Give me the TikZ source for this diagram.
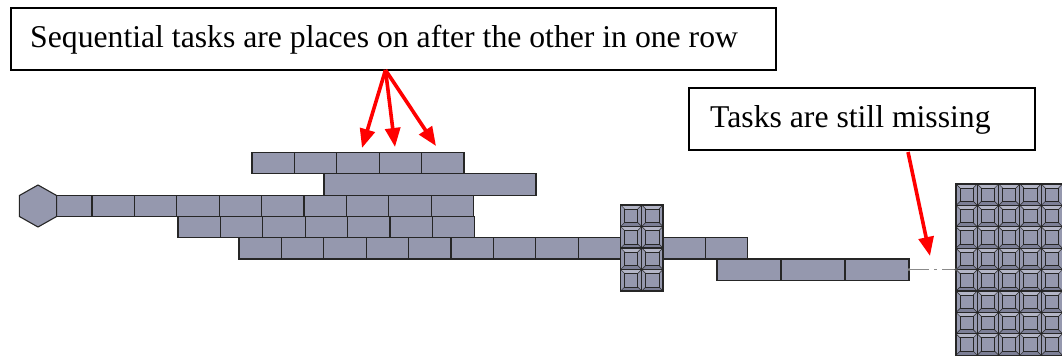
\documentclass[tikz,border=0pt]{standalone}
\usepackage{fontspec}
\setmainfont{Liberation Serif}
\usetikzlibrary{arrows.meta}

\definecolor{tilefill}{HTML}{9598AE}
\definecolor{tilelight}{HTML}{B3B5C6}
\definecolor{tiledark}{HTML}{7C7F96}
\definecolor{tileedge}{HTML}{262626}
\definecolor{linkgray}{HTML}{8A8A8A}

\tikzset{
  tilecell/.style={fill=tilefill, draw=tileedge, line width=1.1pt},
  textbox/.style={draw=black, line width=1.6pt, fill=white, inner sep=0pt},
  boxtext/.style={inner sep=0pt, font=\fontsize{31.7}{38}\selectfont},
  callout/.style={red, line width=3.6pt, -{Triangle[length=19pt,width=15pt]}},
  missinglink/.style={linkgray, line width=1pt, dash pattern=on 20pt off 5pt on 3pt off 5pt},
}

% one row of equal task cells: x0, y0, cell width, count, height
\newcommand\taskrow[5]{%
  \foreach \i in {1,...,#4}{%
    \draw[tilecell] ({#1+(\i-1)*#3},#2) rectangle ++(#3,#5);
  }%
}

% one bevelled square at the current origin: width, height
\newcommand\chocsq[2]{%
  \fill[tilefill] (0,0) rectangle (#1,#2);
  \fill[tilelight] (0,0) -- (#1,0) -- ({#1-4},4) -- (4,4) -- cycle;
  \fill[tiledark] (0,#2) -- (#1,#2) -- ({#1-4},{#2-4}) -- (4,{#2-4}) -- cycle;
  \draw[tileedge, line width=0.5pt] (0,0) -- (4,4) (#1,0) -- ({#1-4},4)
        (0,#2) -- (4,{#2-4}) (#1,#2) -- ({#1-4},{#2-4});
  \draw[tileedge, line width=1pt] (4,4) rectangle ({#1-4},{#2-4});
  \draw[tileedge, line width=1.1pt] (0,0) rectangle (#1,#2);
}

% grid of bevelled squares: x0, y0, cell width, cell height, columns, rows
\newcommand\chocgrid[6]{%
  \foreach \c in {1,...,#5}{%
    \foreach \r in {1,...,#6}{%
      \pgfmathsetmacro\cx{#1+(\c-1)*#3}%
      \pgfmathsetmacro\cy{#2+(\r-1)*#4}%
      \begin{scope}[shift={(\cx,\cy)}]
        \chocsq{#3}{#4}
      \end{scope}
    }%
  }%
}

\begin{document}
\begin{tikzpicture}[x=1pt, y=-1pt]
\useasboundingbox (0,0) rectangle (1062,356);

% task rows, top to bottom
\taskrow{252}{152.5}{42.4}{5}{21.3}
\draw[tilecell] (324,173.8) rectangle (536,195.1);
\taskrow{49.6}{195.1}{42.4}{10}{21.3}
\taskrow{178}{216.4}{42.4}{7}{21.3}
\taskrow{239}{237.7}{42.4}{12}{21.3}
\taskrow{717}{259}{64}{3}{21.3}

% start node
\draw[tilecell] (38,185) -- (19.4,195.5) -- (19.4,216.5) -- (38,227)
      -- (56.6,216.5) -- (56.6,195.5) -- cycle;

% merged task blocks
\chocgrid{620.6}{205}{21.2}{21.5}{2}{4}
\chocgrid{956}{184}{21.3}{21.4}{5}{8}

% missing connection
\coordinate (rowend) at (909,269.6);
\coordinate (blockin) at (956,269.6);
\draw[missinglink] (rowend) -- (blockin);
\fill[linkgray] (rowend) circle (1.6pt);
\fill[tileedge!80] (blockin) circle (1.8pt);

% annotations
\node[textbox, anchor=north west, minimum width=765pt, minimum height=62pt] (seqbox) at (10,7) {};
\node[boxtext, anchor=base west] (seqtext) at (30,47)
  {Sequential tasks are places on after the other in one row};
\node[textbox, anchor=north west, minimum width=346pt, minimum height=62pt] (missbox) at (688,87) {};
\node[boxtext, anchor=base west] (misstext) at (710,127) {Tasks are still missing};

\coordinate (seqfoot) at (385.5,70);
\coordinate (tipa) at (362,148);
\coordinate (tipb) at (395,147);
\coordinate (tipc) at (436,146);
\draw[callout] (seqfoot) -- (tipa);
\draw[callout] (seqfoot) -- (tipb);
\draw[callout] (seqfoot) -- (tipc);

\coordinate (missfoot) at (908,152);
\coordinate (misstip) at (930,256);
\draw[callout] (missfoot) -- (misstip);
\end{tikzpicture}
\end{document}
